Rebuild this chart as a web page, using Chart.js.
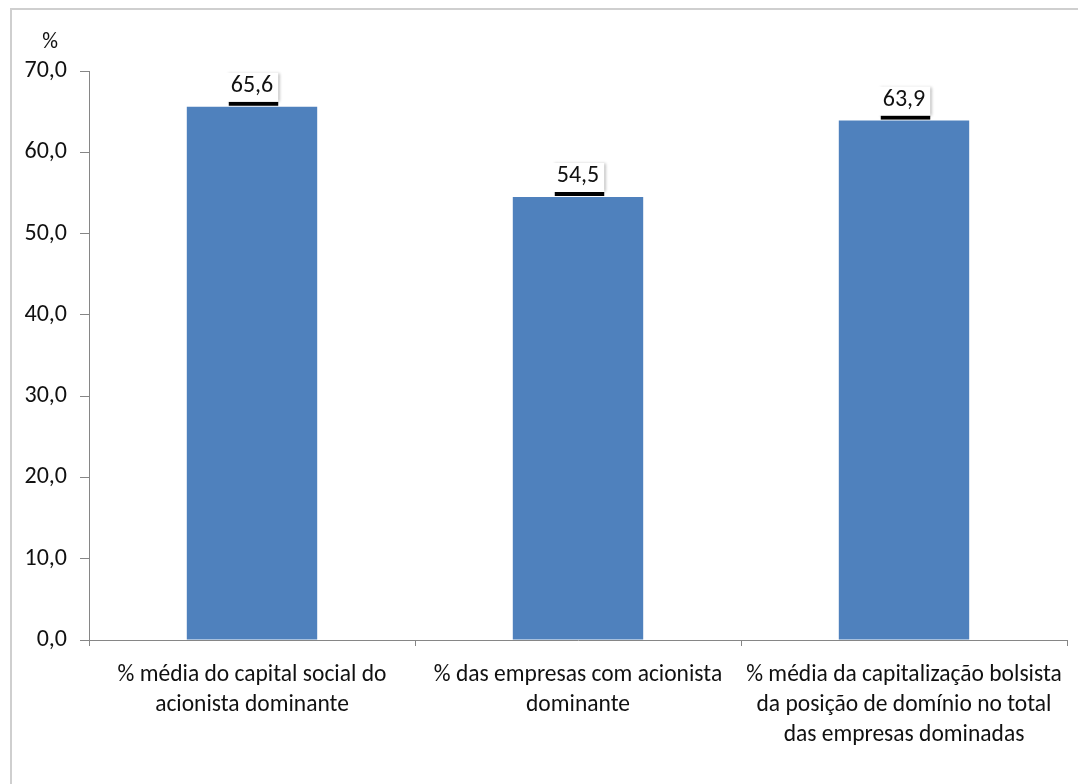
<!DOCTYPE html>
<html>
<head>
<meta charset="utf-8">
<script src="https://cdn.jsdelivr.net/npm/chart.js@4.4.1/dist/chart.umd.min.js"></script>
<style>
  html, body { margin: 0; padding: 0; background: #fff; }
  #wrap { position: relative; width: 1078px; height: 784px; }
</style>
</head>
<body>
<div id="wrap"><canvas id="c"></canvas></div>
<script>
// data
const categories = [
  ['% média do capital social do', 'acionista dominante'],
  ['% das empresas com acionista', 'dominante'],
  ['% média da capitalização bolsista', 'da posição de domínio no total', 'das empresas dominadas']
];
const values = [65.6, 54.5, 63.9];
const yTicks = [0, 10, 20, 30, 40, 50, 60, 70];
const yUnit = '%';

const FONT = "Carlito, 'Liberation Sans Narrow', Roboto, sans-serif";
const textColor = '#111';
const axisColor = '#868686';
const barColor = '#4F81BD';

const fmt = v => v.toFixed(1).replace('.', ',');

// light grey frame round the whole chart (cut off right and bottom)
const frame = {
  id: 'frame',
  beforeDraw(chart) {
    const ctx = chart.ctx;
    ctx.save();
    ctx.strokeStyle = '#cfcfcf';
    ctx.lineWidth = 2;
    ctx.beginPath();
    ctx.moveTo(11, chart.height + 5);
    ctx.lineTo(11, 9);
    ctx.lineTo(chart.width + 5, 9);
    ctx.stroke();
    ctx.restore();
  }
};

// "%" above the y axis
const unitLabel = {
  id: 'unitLabel',
  afterDraw(chart) {
    const ctx = chart.ctx;
    ctx.save();
    ctx.font = '22px ' + FONT;
    ctx.fillStyle = textColor;
    ctx.textAlign = 'center';
    ctx.textBaseline = 'middle';
    ctx.fillText(yUnit, 50, 42);
    ctx.restore();
  }
};

// Excel style value boxes with a dark shadow under them
const valueBoxes = {
  id: 'valueBoxes',
  afterDatasetsDraw(chart) {
    const ctx = chart.ctx;
    const meta = chart.getDatasetMeta(0);
    ctx.save();
    ctx.font = '24px ' + FONT;
    meta.data.forEach((bar, i) => {
      const txt = fmt(values[i]);
      const w = ctx.measureText(txt).width + 10;
      const h = 32;
      const x0 = bar.x - w / 2;
      const y1 = bar.y - 2;
      const y0 = y1 - h;
      ctx.fillStyle = '#000';
      ctx.fillRect(x0 + 3, y1 - 3, w - 3, 4);
      ctx.shadowColor = 'rgba(0,0,0,0.3)';
      ctx.shadowBlur = 3;
      ctx.shadowOffsetX = 2;
      ctx.fillStyle = '#fff';
      ctx.fillRect(x0, y0, w, h - 3);
      ctx.shadowColor = 'transparent';
      ctx.fillStyle = textColor;
      ctx.textAlign = 'center';
      ctx.textBaseline = 'middle';
      ctx.fillText(txt, bar.x, y0 + 13);
    });
    ctx.restore();
  }
};

new Chart(document.getElementById('c'), {
  type: 'bar',
  data: {
    labels: categories,
    datasets: [{
      data: values,
      backgroundColor: barColor,
      borderWidth: 0,
      categoryPercentage: 1,
      barPercentage: 0.4
    }]
  },
  options: {
    responsive: true,
    maintainAspectRatio: false,
    animation: false,
    layout: { padding: { top: 71, right: 11, left: 0, bottom: 0 } },
    plugins: {
      legend: { display: false },
      tooltip: { enabled: false }
    },
    scales: {
      x: {
        grid: { display: true, drawOnChartArea: false, tickLength: 6, color: axisColor, offset: true },
        border: { color: axisColor, width: 1 },
        ticks: {
          color: textColor,
          font: { family: FONT, size: 23.5, lineHeight: 1.28 },
          maxRotation: 0,
          padding: 14
        },
        afterFit(scale) { scale.height = 144; }
      },
      y: {
        min: 0,
        max: 70,
        afterBuildTicks(scale) { scale.ticks = yTicks.map(v => ({ value: v })); },
        grid: { display: true, drawOnChartArea: false, tickLength: 9, color: axisColor },
        border: { color: axisColor, width: 1 },
        ticks: {
          color: textColor,
          font: { family: FONT, size: 24 },
          padding: 13,
          callback: v => fmt(v)
        },
        afterFit(scale) { scale.width = 89; }
      }
    }
  },
  plugins: [frame, unitLabel, valueBoxes]
});
</script>
</body>
</html>
